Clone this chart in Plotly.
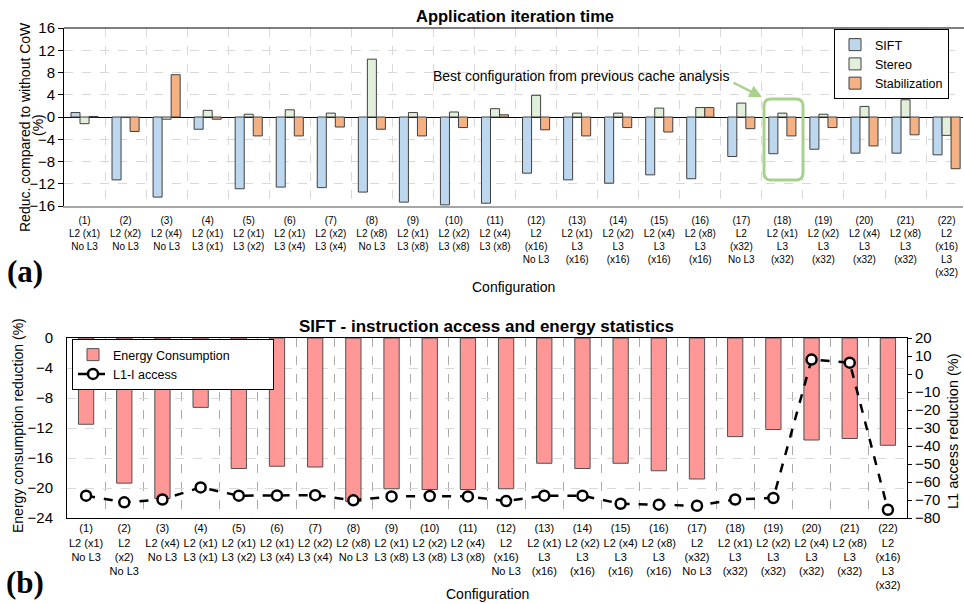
import plotly.graph_objects as go

# ---------------- data ----------------
top_labels = [
    "(1)<br>L2 (x1)<br>No L3", "(2)<br>L2 (x2)<br>No L3", "(3)<br>L2 (x4)<br>No L3",
    "(4)<br>L2 (x1)<br>L3 (x1)", "(5)<br>L2 (x1)<br>L3 (x2)", "(6)<br>L2 (x1)<br>L3 (x4)",
    "(7)<br>L2 (x2)<br>L3 (x4)", "(8)<br>L2 (x8)<br>No L3", "(9)<br>L2 (x1)<br>L3 (x8)",
    "(10)<br>L2 (x2)<br>L3 (x8)", "(11)<br>L2 (x4)<br>L3 (x8)", "(12)<br>L2<br>(x16)<br>No L3",
    "(13)<br>L2 (x1)<br>L3<br>(x16)", "(14)<br>L2 (x2)<br>L3<br>(x16)", "(15)<br>L2 (x4)<br>L3<br>(x16)",
    "(16)<br>L2 (x8)<br>L3<br>(x16)", "(17)<br>L2<br>(x32)<br>No L3", "(18)<br>L2 (x1)<br>L3<br>(x32)",
    "(19)<br>L2 (x2)<br>L3<br>(x32)", "(20)<br>L2 (x4)<br>L3<br>(x32)", "(21)<br>L2 (x8)<br>L3<br>(x32)",
    "(22)<br>L2<br>(x16)<br>L3<br>(x32)",
]
bottom_labels = list(top_labels)
bottom_labels[1] = "(2)<br>L2<br>(x2)<br>No L3"

sift = [0.8, -11.3, -14.4, -2.2, -12.9, -12.6, -12.7, -13.5, -15.3, -15.8, -15.5,
        -10.1, -11.3, -11.9, -10.4, -11.1, -7.1, -6.6, -5.8, -6.5, -6.5, -6.8]
stereo = [-1.2, -0.1, -0.4, 1.2, 0.5, 1.3, 0.7, 10.4, 0.8, 0.9, 1.5,
          3.9, 0.7, 0.7, 1.6, 1.7, 2.5, 0.7, 0.5, 1.9, 3.1, -3.3]
stabilization = [0.1, -2.6, 7.6, -0.4, -3.4, -3.4, -1.8, -2.2, -3.4, -1.9, 0.4,
                 -2.3, -3.4, -1.9, -2.7, 1.7, -2.1, -3.4, -1.9, -5.2, -3.2, -9.3]

energy = [-11.5, -19.35, -21.4, -9.25, -17.4, -17.1, -17.2, -21.8, -20.1, -20.2, -20.2,
          -20.1, -16.7, -17.4, -16.7, -17.7, -18.8, -13.15, -12.2, -13.6, -13.4, -14.3]
l1i_access = [-67.6, -71.3, -69.7, -63.0, -67.6, -67.5, -67.3, -70.2, -68.0, -67.8, -68.0,
              -70.6, -67.6, -67.6, -72.1, -72.6, -73.2, -69.7, -68.9, 8.0, 6.3, -75.4]

top_yticks = [16, 12, 8, 4, 0, -4, -8, -12, -16]
bot_yticks = [0, -4, -8, -12, -16, -20, -24]
right_yticks = [20, 10, 0, -10, -20, -30, -40, -50, -60, -70, -80]

# ---------------- layout helpers ----------------
W, H = 964, 604
def fx(px):
    return px / W
def fy(py):
    return 1 - py / H

FONT = "Liberation Sans, Arial, sans-serif"
OUTLINE = dict(color="#404040", width=1)
NB = "\u00a0"

fig = go.Figure()
fig.add_trace(go.Bar(x=top_labels, y=sift, name="SIFT", marker=dict(color="#BDD7EE", line=OUTLINE),
                     xaxis="x", yaxis="y", legend="legend"))
fig.add_trace(go.Bar(x=top_labels, y=stereo, name="Stereo", marker=dict(color="#E2EFDA", line=OUTLINE),
                     xaxis="x", yaxis="y", legend="legend"))
fig.add_trace(go.Bar(x=top_labels, y=stabilization, name="Stabilization",
                     marker=dict(color="#F4B183", line=OUTLINE), xaxis="x", yaxis="y", legend="legend"))

fig.add_trace(go.Bar(x=bottom_labels, y=energy, name="Energy Consumption" + NB * 11, width=0.4,
                     marker=dict(color="#FF9797", line=dict(color="#505050", width=1)),
                     xaxis="x2", yaxis="y2", legend="legend2"))
fig.add_trace(go.Scatter(x=bottom_labels, y=l1i_access, name="L1-I access", mode="lines+markers",
                         line=dict(color="black", width=2.5, dash="dash"),
                         marker=dict(symbol="circle", size=10, color="white",
                                     line=dict(color="black", width=2.5)),
                         xaxis="x2", yaxis="y3", legend="legend2"))

grid_light = "#D9D9D9"
fig.update_layout(
    width=W, height=H,
    margin=dict(l=0, r=0, t=0, b=0, autoexpand=False),
    paper_bgcolor="white", plot_bgcolor="white",
    font=dict(family=FONT, size=13, color="black"),
    barmode="group", bargap=0.34, bargroupgap=0,
    showlegend=True,
    xaxis=dict(domain=[fx(64), fx(963)], anchor="y", type="category",
               range=[-0.5, 21.4], tickson="boundaries", ticks="", ticklabelstandoff=4,
               showgrid=True, gridcolor=grid_light, griddash="dash", gridwidth=1,
               showline=True, linecolor="#A6A6A6", linewidth=2,
               tickfont=dict(size=10), tickangle=0),
    yaxis=dict(domain=[fy(206), fy(28)], anchor="x", range=[-16, 16],
               tickvals=top_yticks, ticks="outside", ticklen=5, tickcolor="black",
               showgrid=True, gridcolor=grid_light, griddash="dash",
               zeroline=True, zerolinecolor="black", zerolinewidth=1,
               showline=True, linecolor="black", linewidth=1,
               tickfont=dict(size=15)),
    xaxis2=dict(domain=[fx(67), fx(907)], anchor="y2", type="category",
                range=[-0.5, 21.5], tickson="boundaries", ticks="",
                showgrid=True, gridcolor="#ABABAB", griddash="dash", gridwidth=1,
                showline=True, linecolor="black", linewidth=1, mirror=True,
                tickfont=dict(size=11), tickangle=0),
    yaxis2=dict(domain=[fy(518), fy(338)], anchor="x2", range=[-24, 0],
                tickvals=bot_yticks, ticks="", ticklabelstandoff=10,
                showgrid=True, gridcolor=grid_light, griddash="dash",
                zeroline=False, showline=True, linecolor="black", linewidth=1,
                tickfont=dict(size=15)),
    yaxis3=dict(overlaying="y2", side="right", anchor="x2", range=[-80, 20],
                tickvals=right_yticks, ticks="outside", ticklen=4, tickcolor="black",
                showgrid=False, zeroline=False, showline=True, linecolor="black", linewidth=1,
                tickfont=dict(size=15)),
    legend=dict(x=fx(834), y=fy(29), xanchor="left", yanchor="top",
                bordercolor="black", borderwidth=1, bgcolor="white",
                font=dict(size=12.5), tracegroupgap=0, itemwidth=30),
    legend2=dict(x=fx(72), y=fy(339), xanchor="left", yanchor="top",
                 bordercolor="black", borderwidth=1, bgcolor="white",
                 font=dict(size=12.5), tracegroupgap=0, itemwidth=30),
)

# rounded highlight box around configuration (18)
def rounded_rect(x0, y0, x1, y1, r):
    p = [f"M {fx(x0 + r)} {fy(y0)}", f"L {fx(x1 - r)} {fy(y0)}",
         f"Q {fx(x1)} {fy(y0)} {fx(x1)} {fy(y0 + r)}", f"L {fx(x1)} {fy(y1 - r)}",
         f"Q {fx(x1)} {fy(y1)} {fx(x1 - r)} {fy(y1)}", f"L {fx(x0 + r)} {fy(y1)}",
         f"Q {fx(x0)} {fy(y1)} {fx(x0)} {fy(y1 - r)}", f"L {fx(x0)} {fy(y0 + r)}",
         f"Q {fx(x0)} {fy(y0)} {fx(x0 + r)} {fy(y0)} Z"]
    return " ".join(p)

fig.add_shape(type="path", xref="paper", yref="paper", path=rounded_rect(764, 99, 803, 180, 7),
              line=dict(color="#A9D18E", width=3))
# top border of upper plot
fig.add_shape(type="line", xref="paper", yref="paper", x0=fx(64), x1=fx(964), y0=fy(28), y1=fy(28),
              line=dict(color="black", width=1))

ann = []
ann.append(dict(text="<b>Application iteration time</b>", x=fx(515), y=fy(16), xref="paper", yref="paper",
                showarrow=False, font=dict(size=16.5), xanchor="center", yanchor="middle"))
ann.append(dict(text="<b>SIFT - instruction access and energy statistics</b>", x=fx(486), y=fy(326),
                xref="paper", yref="paper", showarrow=False, font=dict(size=17),
                xanchor="center", yanchor="middle"))
ann.append(dict(text="Best configuration from previous cache analysis", x=fx(581), y=fy(76),
                xref="paper", yref="paper", showarrow=False, font=dict(size=14),
                xanchor="center", yanchor="middle"))
ann.append(dict(text="", x=fx(762), y=fy(97), xref="paper", yref="paper", showarrow=True,
                ax=-30, ay=-15, arrowcolor="#A9D18E", arrowwidth=2.5, arrowhead=2, arrowsize=1))
ann.append(dict(text="Reduc. compared to without CoW", x=fx(25), y=fy(127), xref="paper", yref="paper",
                showarrow=False, textangle=-90, font=dict(size=14), xanchor="center", yanchor="middle"))
ann.append(dict(text="(%)", x=fx(38), y=fy(125), xref="paper", yref="paper",
                showarrow=False, textangle=-90, font=dict(size=14), xanchor="center", yanchor="middle"))
ann.append(dict(text="Energy consumption reduction (%)", x=fx(18), y=fy(426), xref="paper", yref="paper",
                showarrow=False, textangle=-90, font=dict(size=14), xanchor="center", yanchor="middle"))
ann.append(dict(text="L1 access reduction (%)", x=fx(953), y=fy(431), xref="paper", yref="paper",
                showarrow=False, textangle=-90, font=dict(size=14.5), xanchor="center", yanchor="middle"))
ann.append(dict(text="Configuration", x=fx(513), y=fy(287), xref="paper", yref="paper",
                showarrow=False, font=dict(size=14), xanchor="center", yanchor="middle"))
ann.append(dict(text="Configuration", x=fx(487), y=fy(594), xref="paper", yref="paper",
                showarrow=False, font=dict(size=14), xanchor="center", yanchor="middle"))
ann.append(dict(text="<b>(a)</b>", x=fx(25), y=fy(271), xref="paper", yref="paper", showarrow=False,
                font=dict(size=31, family="Liberation Serif, Times New Roman, serif"),
                xanchor="center", yanchor="middle"))
ann.append(dict(text="<b>(b)</b>", x=fx(25), y=fy(582), xref="paper", yref="paper", showarrow=False,
                font=dict(size=31, family="Liberation Serif, Times New Roman, serif"),
                xanchor="center", yanchor="middle"))
fig.update_layout(annotations=ann)

fig.write_html("out.html")
